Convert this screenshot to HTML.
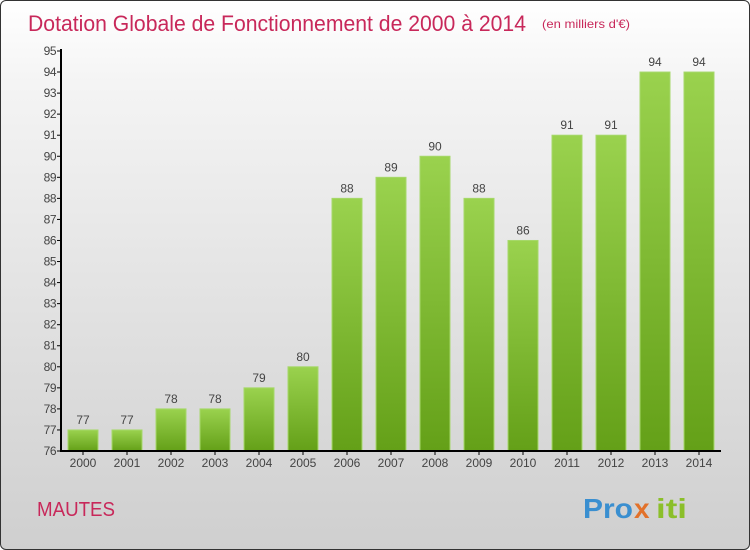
<!DOCTYPE html>
<html><head><meta charset="utf-8">
<style>
html,body{margin:0;padding:0;}
body{width:750px;height:550px;overflow:hidden;font-family:"Liberation Sans",sans-serif;}
#frame{position:absolute;left:0;top:0;width:748px;height:548px;border:1px solid #333;border-radius:6px;background:linear-gradient(#ffffff,#f4f4f4 15%,#e0e0e0 60%,#cfcfcf);overflow:hidden;}
</style></head><body>
<div id="frame">
<svg id="chart" width="750" height="550">
<defs><linearGradient id="g" x1="0" y1="0" x2="0" y2="1"><stop offset="0" stop-color="#9ad24e"/><stop offset="1" stop-color="#64a018"/></linearGradient></defs>
<text x="27" y="30" font-size="22" fill="#c8285a" textLength="498" lengthAdjust="spacingAndGlyphs">Dotation Globale de Fonctionnement de 2000 à 2014</text>
<text x="541" y="27" font-size="12" fill="#c8285a" textLength="88" lengthAdjust="spacingAndGlyphs">(en milliers d'€)</text>
<text x="36" y="515" font-size="20" fill="#c8285a" textLength="78" lengthAdjust="spacingAndGlyphs">MAUTES</text>
<g font-size="28" font-weight="bold">
<text x="582" y="517" fill="#3a8fd0" textLength="50" lengthAdjust="spacingAndGlyphs">Pro</text><text x="633" y="517" fill="#e2712a">x</text><text x="655" y="517" fill="#8bbf2a" textLength="31" lengthAdjust="spacingAndGlyphs">iti</text>
</g>
</svg>
</div>
<script>
const years=["2000","2001","2002","2003","2004","2005","2006","2007","2008","2009","2010","2011","2012","2013","2014"];
const values=[77,77,78,78,79,80,88,89,90,88,86,91,91,94,94];
const yTicks=[76,77,78,79,80,81,82,83,84,85,86,87,88,89,90,91,92,93,94,95];
const svg=document.getElementById('chart');const NS='http://www.w3.org/2000/svg';
const yMin=76,yMax=95,y0=450,y1=50;
const ys=v=>y0-(v-yMin)*(y0-y1)/(yMax-yMin);
const xs=i=>82+i*44;
function mk(t,a){const e=document.createElementNS(NS,t);for(const k in a)e.setAttribute(k,a[k]);svg.appendChild(e);return e;}
values.forEach((v,i)=>{
 const r=mk('rect',{x:xs(i)-15,y:ys(v),width:30,height:y0-ys(v),fill:'url(#g)',stroke:'#a6d86a','stroke-width':1});
 
 
 const t=mk('text',{x:xs(i),y:ys(v)-6,'font-size':12,fill:'#444','text-anchor':'middle'});t.textContent=v;
 
 
 const xl=mk('text',{x:xs(i),y:466,'font-size':12,fill:'#444','text-anchor':'middle'});xl.textContent=years[i];
 
 
 mk('line',{x1:xs(i),x2:xs(i),y1:450,y2:454,stroke:'#000'});
});
yTicks.forEach(v=>{
 mk('line',{x1:56,x2:61,y1:ys(v),y2:ys(v),stroke:'#000'});
 const t=mk('text',{x:55,y:ys(v)+4,'font-size':12,fill:'#444','text-anchor':'end','letter-spacing':'-0.5'});t.textContent=v;
 
 
});
const ya=mk('line',{x1:60,x2:60,y1:48,y2:451,stroke:'#000','stroke-width':2});


const xa=mk('line',{x1:59,x2:720,y1:450,y2:450,stroke:'#000','stroke-width':2});


</script>
</body></html>
